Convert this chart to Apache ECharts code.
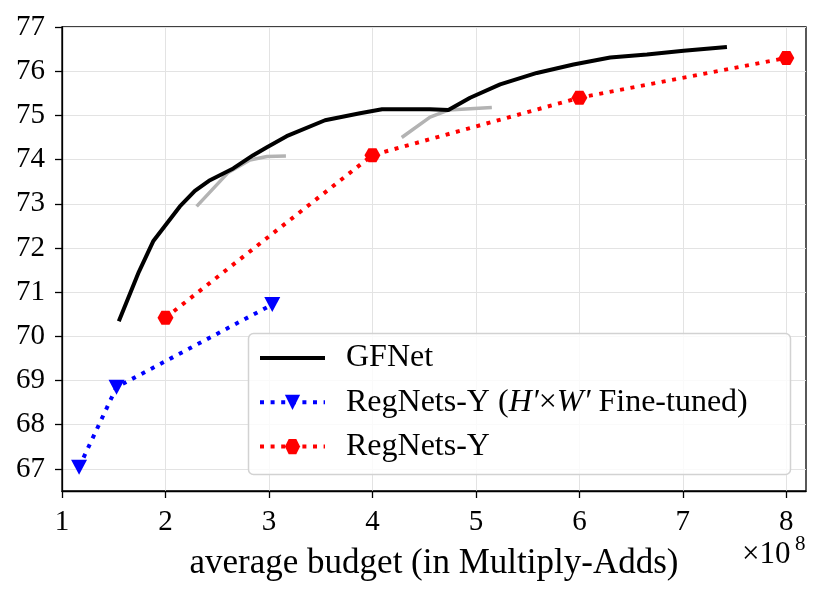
<!DOCTYPE html>
<html>
<head>
<meta charset="utf-8">
<script src="https://cdn.jsdelivr.net/npm/echarts@6/dist/echarts.min.js"></script>
<style>
html,body{margin:0;padding:0;background:#fff;}
#c{width:831px;height:597px;}
</style>
</head>
<body>
<div id="c"></div>
<script>
// ---- data (x in units of 1e8 Multiply-Adds, y = accuracy %) ----
const gfnetX = [1.549, 1.743, 1.881, 2.139, 2.284, 2.42, 2.655, 2.848, 2.981, 3.171, 3.542, 3.880, 4.093, 4.557, 4.734, 4.944, 5.234, 5.589, 5.943, 6.298, 6.653, 7.007, 7.426];
const gfnetY = [70.34, 71.46, 72.15, 72.94, 73.29, 73.52, 73.80, 74.10, 74.28, 74.53, 74.89, 75.05, 75.14, 75.14, 75.12, 75.40, 75.70, 75.96, 76.15, 76.31, 76.38, 76.46, 76.55];
const gray1X = [2.301, 2.603, 2.816, 2.981, 3.164];
const gray1Y = [72.94, 73.70, 73.99, 74.07, 74.08];
const gray2X = [4.283, 4.557, 4.734, 5.154];
const gray2Y = [74.50, 74.96, 75.12, 75.18];
const blueX = [1.165, 1.527, 3.032];
const blueY = [67.04, 68.85, 70.72];
const redX = [2, 4, 6, 8];
const redY = [70.42, 74.10, 75.40, 76.30];
const xTicks = [1, 2, 3, 4, 5, 6, 7, 8];
const yTicks = [67, 68, 69, 70, 71, 72, 73, 74, 75, 76, 77];
const seriesNames = ['GFNet', 'RegNets-Y (H′×W′ Fine-tuned)', 'RegNets-Y'];

const zip = (xs, ys) => xs.map((x, i) => [x, ys[i]]);
const FONT = '"Liberation Serif", "DejaVu Serif", serif';
const HEX = 'path://M0,0.866L0.5,0L1.5,0L2,0.866L1.5,1.732L0.5,1.732Z';
const TRI = 'path://M0,0L2,0L1,1.8Z';

const chart = echarts.init(document.getElementById('c'), null, {renderer: 'canvas'});
chart.setOption({
  animation: false,
  backgroundColor: '#fff',
  grid: {left: 62, right: 25, top: 27, bottom: 106, show: true, borderColor: '#000', borderWidth: 1.3, backgroundColor: 'transparent'},
  xAxis: {
    type: 'value', min: 1.0, max: 8.19,
    axisLine: {show: true, onZero: false, lineStyle: {color: '#000', width: 1.3}},
    axisTick: {show: true, length: 7, lineStyle: {color: '#000', width: 1.3}, customValues: xTicks},
    axisLabel: {color: '#000', fontFamily: FONT, fontSize: 29, margin: 17, customValues: xTicks},
    splitLine: {show: true, lineStyle: {color: '#e3e3e3', width: 1}},
    name: 'average budget (in Multiply-Adds)', nameLocation: 'middle', nameGap: 55,
    nameTextStyle: {color: '#000', fontFamily: FONT, fontSize: 35}
  },
  yAxis: {
    type: 'value', min: 66.5, max: 77,
    axisLine: {show: true, onZero: false, lineStyle: {color: '#000', width: 1.3}},
    axisTick: {show: true, length: 7, lineStyle: {color: '#000', width: 1.3}, customValues: yTicks},
    axisLabel: {color: '#000', fontFamily: FONT, fontSize: 29, margin: 17, customValues: yTicks},
    splitLine: {show: true, lineStyle: {color: '#e3e3e3', width: 1}}
  },
  legend: {
    data: [
      {name: seriesNames[0], itemStyle: {opacity: 0}},
      {name: seriesNames[1]},
      {name: seriesNames[2]}
    ],
    orient: 'vertical', left: 258, top: 342, padding: 0,
    itemWidth: 65, itemHeight: 19, itemGap: 12.3,
    selectedMode: false, z: 10,
    lineStyle: {width: 4},
    textStyle: {color: '#000', fontFamily: FONT, fontSize: 32, lineHeight: 32, padding: [0, 0, 0, 16],
      rich: {i: {fontStyle: 'italic', fontFamily: FONT, fontSize: 32, lineHeight: 32, color: '#000'}}},
    formatter: function (n) {
      if (n === seriesNames[1]) return 'RegNets-Y ({i|H′}×{i|W′} Fine-tuned)';
      return n;
    }
  },
  graphic: [
    {type: 'rect', z: 5, shape: {x: 248.5, y: 333.5, width: 542, height: 141, r: 5},
      style: {fill: 'rgba(255,255,255,0.8)', stroke: '#d2d2d2', lineWidth: 1.5}},
    {type: 'text', left: 742, top: 539, z: 5, style: {text: '×10', font: '31px ' + FONT, fill: '#000'}},
    {type: 'text', left: 795, top: 534, z: 5, style: {text: '8', font: '21px ' + FONT, fill: '#000'}}
  ],
  series: [
    {name: 'gray1', type: 'line', data: zip(gray1X, gray1Y), symbol: 'none', z: 2,
      lineStyle: {color: '#b3b3b3', width: 3.5}},
    {name: 'gray2', type: 'line', data: zip(gray2X, gray2Y), symbol: 'none', z: 2,
      lineStyle: {color: '#b3b3b3', width: 3.5}},
    {name: seriesNames[0], type: 'line', data: zip(gfnetX, gfnetY), symbol: 'none', z: 3,
      itemStyle: {color: '#000'}, lineStyle: {color: '#000', width: 4}},
    {name: seriesNames[1], type: 'line', data: zip(blueX, blueY), symbol: TRI, symbolSize: [16, 15], showSymbol: true, z: 3,
      itemStyle: {color: '#0000ff'}, lineStyle: {color: '#0000ff', width: 4, type: [4, 6.6]}},
    {name: seriesNames[2], type: 'line', data: zip(redX, redY), symbol: HEX, symbolSize: [16, 14], showSymbol: true, z: 3,
      itemStyle: {color: '#ff0000'}, lineStyle: {color: '#ff0000', width: 4, type: [4, 6.6]}}
  ]
});
</script>
</body>
</html>
